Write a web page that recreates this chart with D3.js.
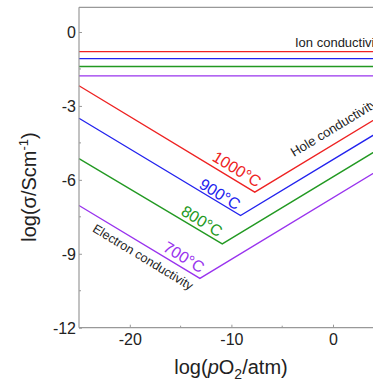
<!DOCTYPE html>
<html><head><meta charset="utf-8">
<script src="https://cdn.jsdelivr.net/npm/d3@7"></script>
<style>
body{margin:0;background:#fff;}
svg{display:block;font-family:"Liberation Sans",Arial,sans-serif;}
</style></head>
<body><svg id="c" width="373" height="387"></svg>
<script>
// ---- data ----
const temperatures = ["1000°C", "900°C", "800°C", "700°C"];
const colors = ["#ee2222", "#2222ee", "#229922", "#9933ee"];
const ionConductivity = [-0.8, -1.08, -1.4, -1.78];
const electronStartPO2 = [-25, -25, -25, -25];
const electronStartCond = [-2.18, -3.5, -5.14, -7.04];
const minimumPO2 = [-7.7, -9.1, -10.9, -13.1];
const minimumCond = [-6.5, -7.45, -8.6, -10.0];
const holeEndPO2 = [5, 5, 5, 5];
const holeEndCond = [-3.33, -3.93, -4.63, -5.48];
const xTicks = [-20, -10, 0];
const xMinorTicks = [-15, -5];
const yTicks = [0, -3, -6, -9, -12];
const yMinorTicks = [-1.5, -4.5, -7.5, -10.5];

const svg = d3.select("#c");
const x = d3.scaleLinear().domain([-25, 0]).range([79, 333]);
const y = d3.scaleLinear().domain([-12, 0]).range([327.7, 32]);
const axisColor = "#999";

// plot frame top
svg.append("line").attr("x1", x(-25)).attr("x2", 373).attr("y1", y(1)).attr("y2", y(1))
  .attr("stroke", axisColor).attr("stroke-width", 1.2);

// lines
const line = d3.line().x(d => x(d[0])).y(d => y(d[1]));
temperatures.forEach((t, i) => {
  svg.append("path").attr("d", line([[-25, ionConductivity[i]], [5, ionConductivity[i]]]))
    .attr("fill", "none").attr("stroke", colors[i]).attr("stroke-width", 1.3);
  svg.append("path").attr("d", line([[electronStartPO2[i], electronStartCond[i]], [minimumPO2[i], minimumCond[i]], [holeEndPO2[i], holeEndCond[i]]]))
    .attr("fill", "none").attr("stroke", colors[i]).attr("stroke-width", 1.3);
});

// axes
const gx = svg.append("g").attr("transform", `translate(0,${y(-12)})`)
  .call(d3.axisBottom(x).tickValues(xTicks).tickSize(-3).tickPadding(6).tickFormat(d => d === 0 ? "0" : d3.format("d")(d).replace("−", "-")));
gx.select(".domain").attr("d", `M${x(-25)},0H373`);
gx.append("g").selectAll("line").data(xMinorTicks).join("line")
  .attr("x1", d => x(d)).attr("x2", d => x(d)).attr("y1", 0).attr("y2", -2).attr("stroke", axisColor);
const gy = svg.append("g").attr("transform", `translate(${x(-25)},0)`)
  .call(d3.axisLeft(y).tickValues(yTicks).tickSize(-3).tickPadding(3).tickFormat(d => String(d)));
gy.select(".domain").attr("d", `M0,${y(1)}V${y(-12)}`);
gy.append("g").selectAll("line").data(yMinorTicks).join("line")
  .attr("x1", 0).attr("x2", 2).attr("y1", d => y(d)).attr("y2", d => y(d)).attr("stroke", axisColor);
[gx, gy].forEach(g => {
  g.select(".domain").attr("stroke", axisColor).attr("stroke-width", 1.2);
  g.selectAll(".tick line").attr("stroke", axisColor);
  g.selectAll(".tick text").attr("fill", "#222").attr("font-size", 16).attr("font-family", "Liberation Sans, Arial, sans-serif");
});
gy.selectAll(".tick text").attr("dy", "0.35em");

// axis titles
const xt = svg.append("text").attr("x", 231).attr("y", 374).attr("text-anchor", "middle")
  .attr("font-size", 20).attr("fill", "#222");
xt.append("tspan").text("log(");
xt.append("tspan").attr("font-style", "italic").text("p");
xt.append("tspan").text("O");
xt.append("tspan").attr("font-size", 14).attr("dy", 5).text("2");
xt.append("tspan").attr("dy", -5).text("/atm)");

const yt = svg.append("text").attr("transform", "translate(36,187) rotate(-90)").attr("text-anchor", "middle")
  .attr("font-size", 20).attr("fill", "#222");
yt.append("tspan").text("log(σ/Scm");
yt.append("tspan").attr("font-size", 13).attr("dy", -8).text("-1");
yt.append("tspan").attr("dy", 8).text(")");

// annotations
const ang = Math.atan((y(-1) - y(0)) * 0.25 / (x(1) - x(0))) * 180 / Math.PI;
svg.append("text").attr("x", 295).attr("y", 47).attr("font-size", 13).attr("fill", "#222").text("Ion conductivity");
svg.append("text").attr("transform", `translate(294,157) rotate(${-ang})`).attr("font-size", 13).attr("fill", "#222").text("Hole conductivity");
svg.append("text").attr("transform", `translate(143,257) rotate(${ang})`).attr("text-anchor", "middle").attr("dy", "0.35em")
  .attr("font-size", 12.5).attr("fill", "#222").text("Electron conductivity");
const labelPos = [[237, 169], [220, 194], [202, 221], [184, 257]];
temperatures.forEach((t, i) => {
  svg.append("text").attr("transform", `translate(${labelPos[i][0]},${labelPos[i][1]}) rotate(${ang})`)
    .attr("text-anchor", "middle").attr("dy", "0.35em").attr("font-size", 16).attr("fill", colors[i]).text(t);
});
</script></body></html>
